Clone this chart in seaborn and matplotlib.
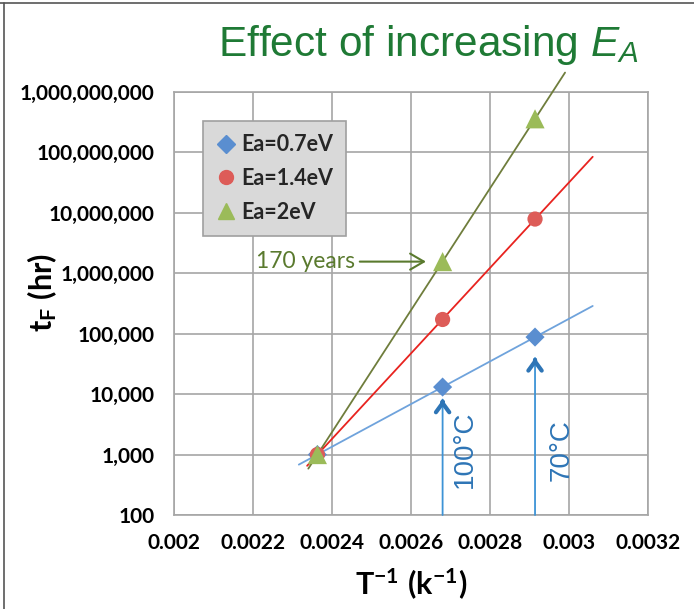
import numpy as np
import pandas as pd
import matplotlib
matplotlib.use("Agg")
import matplotlib.pyplot as plt
import matplotlib.ticker as mticker
from matplotlib.lines import Line2D
import seaborn as sns

# ── data ──────────────────────────────────────────────────────────────────────
inv_T = [0.002363, 0.002680, 0.002914]          # 1/T (1/K): 150°C, 100°C, 70°C
tf_07 = [1000, 13100, 88000]                    # Ea = 0.7 eV
tf_14 = [1000, 172000, 7900000]                 # Ea = 1.4 eV
tf_20 = [1000, 1560000, 360000000]              # Ea = 2 eV
series_labels = ["Ea=0.7eV", "Ea=1.4eV", "Ea=2eV"]

# trendline extents (x range of the Excel-style exponential fits)
trend_lo = [0.002316, 0.002337, 0.00234]
trend_hi = [0.00306, 0.00306, 0.002990]

x_ticks = [0.002, 0.0022, 0.0024, 0.0026, 0.0028, 0.003, 0.0032]
x_tick_labels = ["0.002", "0.0022", "0.0024", "0.0026", "0.0028", "0.003", "0.0032"]
y_ticks = [1e2, 1e3, 1e4, 1e5, 1e6, 1e7, 1e8, 1e9]

MARKER_COLORS = ["#5a8ed0", "#dd5c58", "#9bbb59"]
LINE_COLORS = ["#6fa3dc", "#e8231f", "#6f7d3c"]
MARKERS = ["D", "o", "^"]
SIZES = [95, 120, 190]

sns.set_theme(style="white")
plt.rcParams["font.family"] = ["Lato", "DejaVu Sans"]
plt.rcParams["mathtext.fontset"] = "custom"
plt.rcParams["mathtext.rm"] = "Lato"
plt.rcParams["mathtext.bf"] = "Lato:bold"
plt.rcParams["mathtext.it"] = "Liberation Sans:italic"

df = pd.DataFrame({
    "inv_T": inv_T * 3,
    "tf": tf_07 + tf_14 + tf_20,
    "series": sum([[s] * 3 for s in series_labels], []),
})

fig = plt.figure(figsize=(6.94, 6.09), dpi=100)
ax = fig.add_axes([174 / 694, 94 / 609, 474 / 694, 423 / 609])

# trendlines: fit log10(tf) vs 1/T, drawn over the extended range
for i, lab in enumerate(series_labels):
    sub = df[df["series"] == lab]
    slope, icpt = np.polyfit(sub["inv_T"], np.log10(sub["tf"]), 1)
    xs = np.array([trend_lo[i], trend_hi[i]])
    line_df = pd.DataFrame({"x": xs, "y": 10 ** (icpt + slope * xs)})
    sns.lineplot(data=line_df, x="x", y="y", ax=ax, color=LINE_COLORS[i],
                 lw=1.3, zorder=3, clip_on=False)

for i, lab in enumerate(series_labels):
    sub = df[df["series"] == lab]
    sns.scatterplot(data=sub, x="inv_T", y="tf", ax=ax, marker=MARKERS[i],
                    s=SIZES[i], color=MARKER_COLORS[i], edgecolor="none",
                    zorder=4, legend=False)

ax.set_yscale("log")
ax.set_xlim(0.002, 0.0032)
ax.set_ylim(100, 1e9)
ax.set_xticks(x_ticks)
ax.set_xticklabels(x_tick_labels)
ax.xaxis.set_minor_locator(mticker.MultipleLocator(0.00004))
ax.set_yticks(y_ticks)
ax.yaxis.set_major_formatter(mticker.FuncFormatter(lambda v, _: f"{int(round(v)):,}"))
ax.yaxis.set_minor_locator(mticker.LogLocator(base=10, subs=np.arange(2, 10)))
ax.yaxis.set_minor_formatter(mticker.NullFormatter())

ax.grid(True, which="major", color="#a6a6a6", lw=1.2)
for sp in ax.spines.values():
    sp.set_color("#a6a6a6")
    sp.set_linewidth(1.2)
ax.tick_params(axis="both", which="major", direction="out", length=6, width=1,
               color="#a6a6a6", labelsize=15, pad=7)
ax.tick_params(axis="y", which="major", pad=8)
ax.tick_params(axis="both", which="minor", direction="out", length=4, width=0.8,
               color="#a6a6a6")
for t in ax.get_xticklabels() + ax.get_yticklabels():
    t.set_fontweight("bold")
    t.set_color("black")

ax.set_xlabel(r"$\mathbf{T^{-1}\ (k^{-1})}$", fontsize=22, color="black")
ax.set_ylabel(r"$\mathbf{t_F\ (hr)}$", fontsize=22, color="black")
ax.xaxis.set_label_coords(0.5, -0.122)
ax.yaxis.set_label_coords(-0.243, 0.527)

# legend
handles = [Line2D([0], [0], marker=MARKERS[i], ls="none", color=MARKER_COLORS[i],
                  markersize=[9, 10, 12][i], label=series_labels[i]) for i in range(3)]
leg = ax.legend(handles=handles, loc="upper left", bbox_to_anchor=(0.061, 0.931),
                frameon=True, fancybox=False, facecolor="#d9d9d9",
                edgecolor="#a0a0a0", framealpha=1, labelspacing=0.6,
                handlelength=0.9, handletextpad=0.3, borderpad=0.6,
                borderaxespad=0, prop={"weight": "bold", "size": 15.5})
leg.get_frame().set_linewidth(1.2)

# "170 years" call-out
ax.annotate("170 years", xy=(inv_T[1], tf_20[1]), xycoords="data",
            xytext=(-63, 0), textcoords="offset points", ha="right", va="center",
            fontsize=16.5, color="#5a7a2e",
            arrowprops=dict(arrowstyle="->,head_length=0.6,head_width=0.35",
                            color="#5a7a2e", lw=1.5, shrinkA=1, shrinkB=12))

# temperature arrows
temp_labels = ["100°C", "70°C"]
tip_gap = [9, 15]
text_off = [(16, -45), (19, -81)]
for j, k in enumerate([1, 2]):
    xk, yk = inv_T[k], tf_07[k]
    ax.annotate("", xy=(xk, yk), xycoords="data", xytext=(xk, 100),
                arrowprops=dict(arrowstyle="-", color="#3d93d6", lw=1.3,
                                shrinkA=0, shrinkB=tip_gap[j]), zorder=5)
    ax.annotate("", xy=(xk, yk), xycoords="data",
                xytext=(0, -(tip_gap[j] + 2)), textcoords="offset points",
                arrowprops=dict(arrowstyle="->,head_length=0.55,head_width=0.4",
                                color="#2e75b6", lw=3, shrinkA=0,
                                shrinkB=tip_gap[j]), zorder=5)
    ax.annotate(temp_labels[j], xy=(xk, yk), xycoords="data",
                xytext=text_off[j], textcoords="offset points", rotation=90,
                ha="center", va="center", fontsize=20, color="#2e75b6",
                family=["Liberation Sans", "DejaVu Sans"])

# title
fig.text(218 / 694, 1 - 56 / 609, r"Effect of increasing $E_A$", ha="left",
         va="baseline", fontsize=30.5, color="#1f7a35",
         family=["Liberation Sans", "DejaVu Sans"])

# slide-style frame on top and left
fig.add_artist(Line2D([0, 1], [1 - 3 / 609, 1 - 3 / 609], transform=fig.transFigure,
                      color="#555555", lw=1.2))
fig.add_artist(Line2D([4 / 694, 4 / 694], [0, 1 - 3 / 609], transform=fig.transFigure,
                      color="#555555", lw=1.2))

fig.savefig("out.png", dpi=100)
